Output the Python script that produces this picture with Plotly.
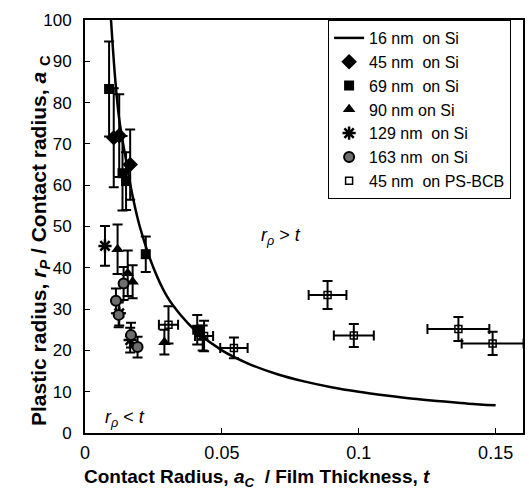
import plotly.graph_objects as go

# 16 nm on Si: plastic-zone curve
curve_x = [0.0095, 0.011, 0.0125, 0.015, 0.0175, 0.02, 0.025, 0.03, 0.035, 0.04,
           0.05, 0.06, 0.07, 0.08, 0.09, 0.1, 0.11, 0.12, 0.13, 0.14, 0.15]
curve_y = [100, 86, 76, 66, 57, 50, 40, 33, 28.5, 25,
           20, 16.7, 14.3, 12.5, 11.1, 10, 9.1, 8.3, 7.7, 7.1, 6.7]

# 45 nm on Si
d45_x = [0.0105, 0.0125, 0.0165]
d45_y = [71.5, 72.0, 65.0]
d45_e = [12.0, 10.0, 8.5]

# 69 nm on Si
s69_x = [0.0088, 0.0137, 0.0150, 0.0222, 0.0410]
s69_y = [83.3, 62.9, 61.0, 43.3, 25.0]
s69_e = [11.5, 9.0, 7.0, 4.3, 3.6]

# 90 nm on Si
t90_x = [0.0119, 0.0156, 0.0174, 0.0290, 0.0430]
t90_y = [44.5, 38.7, 36.6, 22.0, 23.0]
t90_e = [6.0, 5.5, 4.0, 3.0, 3.0]

# 129 nm on Si
a129_x = [0.0073, 0.0125, 0.0165]
a129_y = [45.3, 29.0, 22.5]
a129_e = [4.8, 3.0, 3.0]

# 163 nm on Si
c163_x = [0.0113, 0.0123, 0.0141, 0.0168, 0.0192]
c163_y = [32.0, 28.6, 36.2, 23.7, 20.8]
c163_e = [3.0, 3.0, 4.0, 3.0, 2.5]

# 45 nm on PS-BCB
p45_x = [0.0305, 0.0435, 0.0544, 0.0886, 0.0982, 0.1364, 0.1489]
p45_y = [26.2, 23.5, 20.6, 33.4, 23.6, 25.2, 21.7]
p45_xe = [0.0035, 0.0033, 0.0050, 0.0069, 0.0073, 0.0113, 0.0113]
p45_ye = [4.5, 3.7, 2.5, 3.4, 2.8, 2.9, 2.8]

FONT = "Arial, Liberation Sans, sans-serif"
BLACK = "#000000"


def ebar(vals, w=5):
    return dict(type="data", array=vals, visible=True, color=BLACK, thickness=2, width=w)


fig = go.Figure()

fig.add_trace(go.Scatter(
    x=curve_x, y=curve_y, mode="lines", name="16 nm  on Si",
    line=dict(color=BLACK, width=2.5, shape="spline")))

fig.add_trace(go.Scatter(
    x=d45_x, y=d45_y, mode="markers", name="45 nm  on Si",
    marker=dict(symbol="diamond", size=12, color=BLACK),
    error_y=ebar(d45_e)))

fig.add_trace(go.Scatter(
    x=s69_x, y=s69_y, mode="markers", name="69 nm  on Si",
    marker=dict(symbol="square", size=10, color=BLACK),
    error_y=ebar(s69_e)))

fig.add_trace(go.Scatter(
    x=t90_x, y=t90_y, mode="markers", name="90 nm on Si",
    marker=dict(symbol="triangle-up", size=11, color=BLACK),
    error_y=ebar(t90_e)))

fig.add_trace(go.Scatter(
    x=a129_x, y=a129_y, mode="markers", name="129 nm  on Si",
    marker=dict(symbol="asterisk-open", size=11, color=BLACK,
                line=dict(color=BLACK, width=2.5)),
    error_y=ebar(a129_e)))

fig.add_trace(go.Scatter(
    x=c163_x, y=c163_y, mode="markers", name="163 nm  on Si",
    marker=dict(symbol="circle", size=10, color="#6e6e6e",
                line=dict(color=BLACK, width=2)),
    error_y=ebar(c163_e)))

fig.add_trace(go.Scatter(
    x=p45_x, y=p45_y, mode="markers", name="45 nm  on PS-BCB",
    marker=dict(symbol="square-open", size=7, color=BLACK,
                line=dict(color=BLACK, width=1.5)),
    error_y=ebar(p45_ye), error_x=ebar(p45_xe)))

# region labels
fig.add_annotation(x=0.0715, y=47.5, text="<i>r<sub>ρ</sub></i> &gt; <i>t</i>",
                   showarrow=False, font=dict(family=FONT, size=18, color=BLACK))
fig.add_annotation(x=0.0145, y=3.5, text="<i>r<sub>ρ</sub></i> &lt; <i>t</i>",
                   showarrow=False, font=dict(family=FONT, size=18, color=BLACK))

# axis titles
fig.add_annotation(xref="paper", yref="paper", x=0.393, y=-0.108,
                   text="<b>Contact Radius, <i>a</i><sub><i>C</i></sub>  / Film Thickness, <i>t</i></b>",
                   showarrow=False, xanchor="center", yanchor="middle",
                   font=dict(family=FONT, size=19, color=BLACK))
fig.add_annotation(xref="paper", yref="paper", x=-0.103, y=0.467, textangle=-90,
                   text="<b>Plastic radius, <i>r<sub>P</sub></i> / Contact radius, <i>a</i> <sub>C</sub></b>",
                   showarrow=False, xanchor="center", yanchor="middle",
                   font=dict(family=FONT, size=21, color=BLACK))

axis_common = dict(
    showgrid=False, zeroline=False, showline=True, linecolor=BLACK, linewidth=2,
    mirror=True, ticks="inside", ticklen=5, tickwidth=1, tickcolor=BLACK,
)

fig.update_layout(
    width=529, height=495,
    margin=dict(l=85, r=4, t=20, b=62),
    paper_bgcolor="white", plot_bgcolor="white",
    font=dict(family=FONT, color=BLACK),
    xaxis=dict(range=[0, 0.16], tickvals=[0, 0.05, 0.1, 0.15],
               ticktext=["0", "0.05", "0.1", "0.15"],
               tickfont=dict(family=FONT, size=18, color=BLACK),
               ticklabelstandoff=2,
               **axis_common),
    yaxis=dict(range=[0, 100], dtick=10,
               tickfont=dict(family=FONT, size=17, color=BLACK),
               ticklabelstandoff=8,
               **axis_common),
    legend=dict(x=0.555, y=1.0, xanchor="left", yanchor="top",
                bgcolor="white", bordercolor=BLACK, borderwidth=1,
                font=dict(family=FONT, size=16, color=BLACK),
                tracegroupgap=0, itemwidth=30),
    showlegend=True,
)

fig.write_html("out.html")
